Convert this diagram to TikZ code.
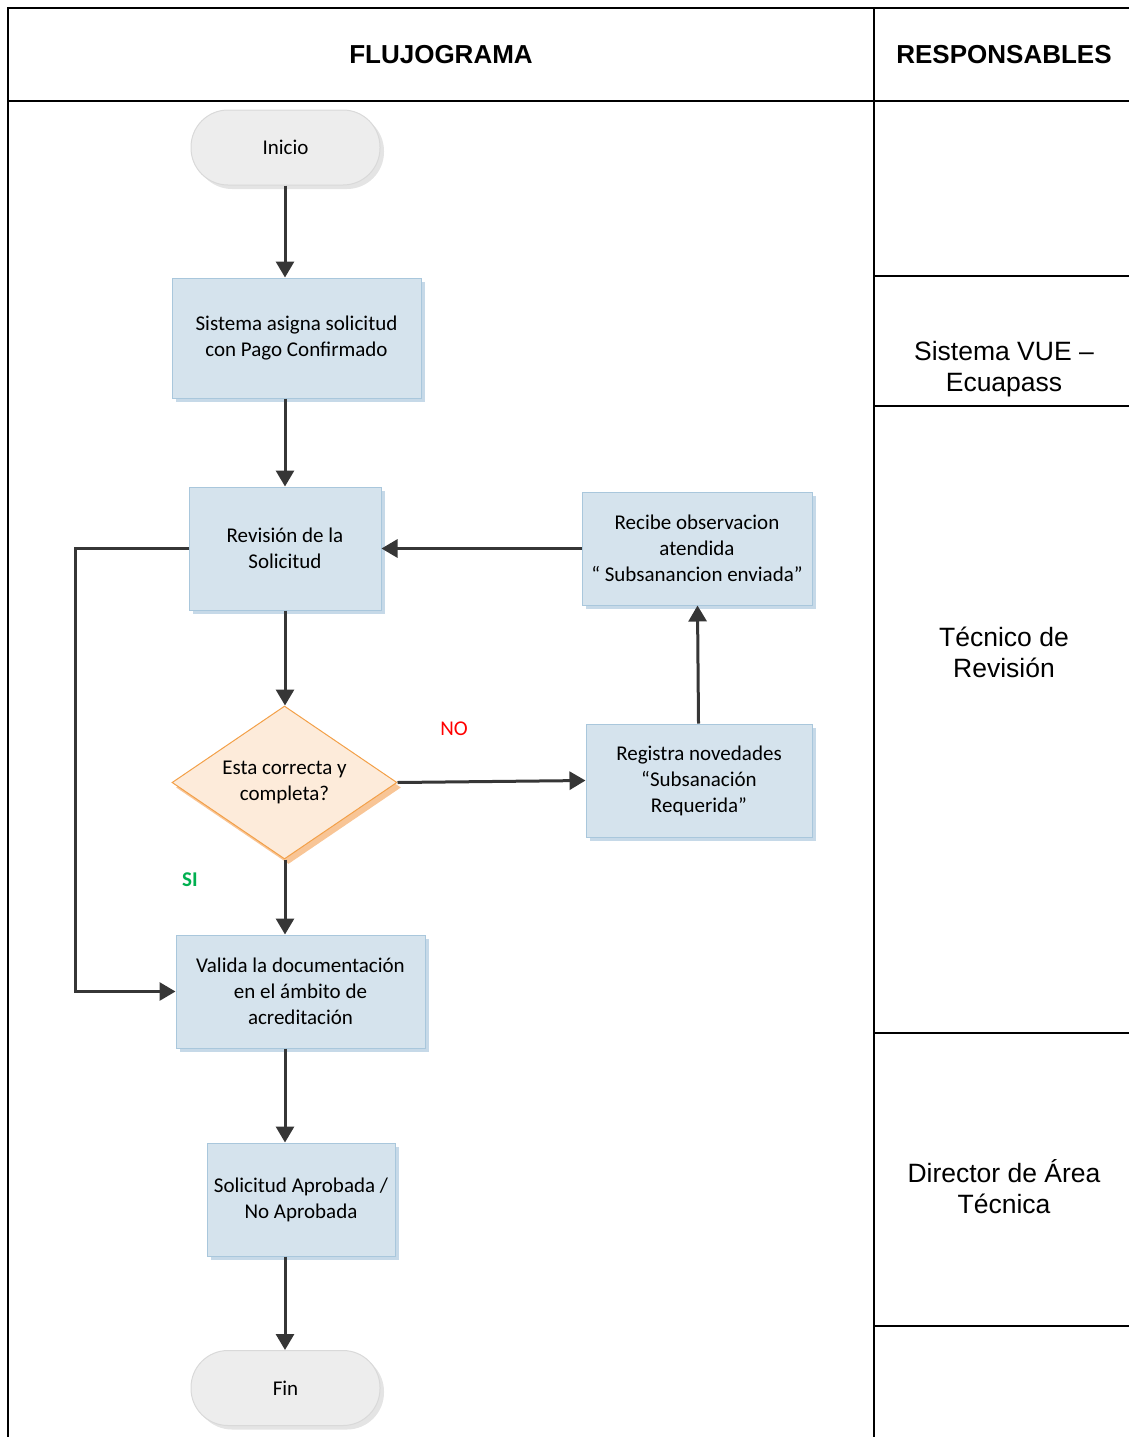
\documentclass[tikz,border=0pt]{standalone}
\usepackage{fontspec}
\setmainfont{Carlito}
\newfontfamily\arial{Liberation Sans}
\usetikzlibrary{shapes.geometric,shadows,arrows.meta}

\definecolor{azul}{HTML}{D5E3ED}
\definecolor{bordeazul}{HTML}{A9C7DC}
\definecolor{sombraazul}{HTML}{C6D9E8}
\definecolor{naranja}{HTML}{FDEBDA}
\definecolor{bordenaranja}{HTML}{F3A048}
\definecolor{sombranaranja}{HTML}{F8C596}
\definecolor{gris}{HTML}{EDEDED}
\definecolor{bordegris}{HTML}{D9D9D9}
\definecolor{sombragris}{HTML}{E4E4E4}
\definecolor{flechagris}{HTML}{363636}
\definecolor{verde}{HTML}{00B050}

\begin{document}
\begin{tikzpicture}[x=1pt, y=-1pt,
every node/.style={%
    font=\fontsize{21}{26}\selectfont, align=center, inner sep=2pt
    },
caja/.style={draw=bordeazul, fill=azul, line width=1pt,
    general shadow={shadow xshift=4pt, shadow yshift=-4pt, fill=sombraazul}},
terminal/.style={draw=bordegris, fill=gris, line width=1pt,
    rounded corners=37pt, minimum width=189pt, minimum height=75pt,
    general shadow={shadow xshift=4pt, shadow yshift=-4pt, fill=sombragris}},
decision/.style={diamond, aspect=1.47, draw=bordenaranja, fill=naranja, line width=1pt,
    inner sep=0pt, minimum width=225pt, minimum height=153pt,
    general shadow={shadow xshift=4pt, shadow yshift=-5pt, fill=sombranaranja}},
flecha/.style={draw=flechagris, line width=3pt,
    -{Triangle[length=16pt,width=18pt]}},
marco/.style={line width=2pt, line cap=rect},
titulo/.style={font=\arial\bfseries\fontsize{26}{30}\selectfont},
resp/.style={font=\arial\fontsize{26.5}{31}\selectfont}
]
\useasboundingbox (0,0) rectangle (1128,1437);

%tabla
\draw[marco] (8,1437) -- (8,8) -- (1128,8);
\draw[marco] (874,8) -- (874,1437);
\draw[marco] (8,101) -- (1128,101);
\foreach \y in {276,406,1033,1326}
    \draw[marco] (874,\y) -- (1128,\y);

\node[titulo] (tflujo) at (441,55) {FLUJOGRAMA};
\node[titulo] (tresp) at (1004,55) {RESPONSABLES};
\node[resp] (rvue) at (1004,369) {Sistema VUE –\\Ecuapass};
\node[resp] (rtec) at (1004,652) {Técnico de\\Revisión};
\node[resp] (rdir) at (1004,1187) {Director de Área\\Técnica};

%flujo
\node[terminal] (ini) at (285.5,147.5) {Inicio};
\node[caja, minimum width=249pt, minimum height=120pt] (sis) at (296.5,338)
    {Sistema asigna solicitud\\con Pago Confirmado};
\node[caja, minimum width=192pt, minimum height=123pt] (rev) at (285,548.5)
    {Revisión de la\\Solicitud};
\node[decision] (dec) at (284.5,782.5) {Esta correcta y\\completa?};
\node[caja, minimum width=230pt, minimum height=113pt] (rec) at (697,548.5)
    {Recibe observacion\\atendida\\“ Subsanancion enviada”};
\node[caja, minimum width=226pt, minimum height=113pt] (reg) at (699,780.5)
    {Registra novedades\\“Subsanación\\Requerida”};
\node[caja, minimum width=249pt, minimum height=113pt] (val) at (300.5,991.5)
    {Valida la documentación\\en el ámbito de\\acreditación};
\node[caja, minimum width=188pt, minimum height=113pt] (apr) at (301,1199.5)
    {Solicitud Aprobada /\\No Aprobada};
\node[terminal] (fin) at (285.5,1388) {Fin};

\node[text=red] (etqno) at (454,729) {NO};
\node[text=verde, font=\bfseries\fontsize{21}{26}\selectfont] (etqsi) at (190,880) {SI};

\coordinate (eje) at (285,0);
\coordinate (izq) at (75,0);

\foreach \i/\j in {ini/sis, sis/rev, rev/dec, dec/val, val/apr, apr/fin}
    \draw[flecha] (eje |- \i.south) -- (eje |- \j.north);

\draw[flecha] (dec.east) -- (reg.west);
\draw[flecha] (reg) -- (rec);
\draw[flecha] (rec.west) -- (rev.east);
\draw[flecha] (rev.west) -- (izq |- rev.west) |- (val.west);

\end{tikzpicture}
\end{document}
